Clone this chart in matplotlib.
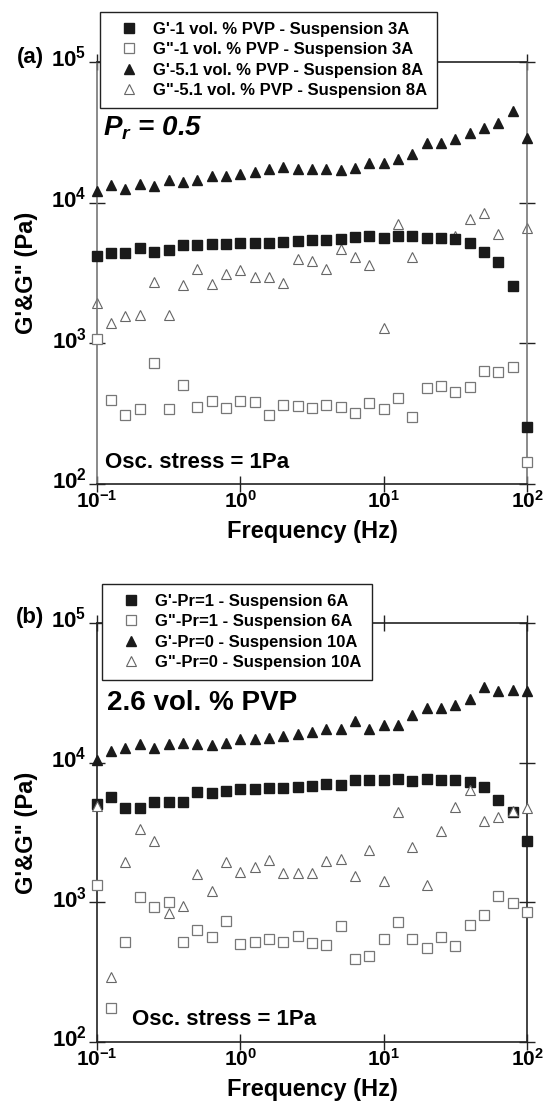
import numpy as np
import matplotlib
matplotlib.use("Agg")
import matplotlib.pyplot as plt
from matplotlib.ticker import LogLocator, NullLocator
from matplotlib.transforms import ScaledTranslation

plt.rcParams['font.family'] = ['Liberation Sans', 'DejaVu Sans']
plt.rcParams['font.weight'] = 'bold'

nan = np.nan

# frequency sweep, 10 points per decade (Hz)
freq = [0.1, 0.126, 0.158, 0.2, 0.251, 0.316, 0.398, 0.501, 0.631, 0.794,
        1.0, 1.26, 1.58, 2.0, 2.51, 3.16, 3.98, 5.01, 6.31, 7.94,
        10.0, 12.6, 15.8, 20.0, 25.1, 31.6, 39.8, 50.1, 63.1, 79.4, 100.0]

# panel (a), Pr = 0.5
gp_1vol = [4200, 4370, 4370, 4730, 4480, 4610, 5000, 5000, 5050, 5070,
           5140, 5200, 5200, 5250, 5310, 5430, 5430, 5480, 5730, 5800,
           5640, 5800, 5800, 5640, 5570, 5480, 5140, 4440, 3790, 2570, 256]
gpp_1vol = [1070, 395, 310, 340, 721, 340, 506, 355, 389, 345,
            389, 381, 310, 365, 359, 349, 365, 351, 318, 374,
            340, 406, 301, 479, 497, 451, 487, 640, 622, 675, 144]
gp_51vol = [12100, 13400, 12600, 13600, 13200, 14400, 14100, 14400, 15400, 15500,
            16000, 16500, 17300, 17800, 17400, 17400, 17400, 17100, 17700, 19200,
            19200, 20300, 22200, 26400, 26400, 28200, 31400, 34100, 37000, 45100, 29000]
gpp_51vol = [1920, 1400, 1560, 1590, 2740, 1590, 2600, 3360, 2630, 3110,
             3320, 2980, 2980, 2700, 3950, 3850, 3370, 4690, 4080, 3600,
             1290, 7050, 4080, 5640, 5570, 5800, 7630, 8490, 5960, nan, 6640]

# panel (b), 2.6 vol. % PVP
gp_pr1 = [5090, 5690, 4770, 4770, 5240, 5240, 5240, 6170, 6100, 6280,
          6450, 6450, 6630, 6630, 6700, 6850, 7080, 6890, 7520, 7520,
          7520, 7700, 7400, 7600, 7520, 7520, 7240, 6670, 5410, 4410, 2740]
gpp_pr1 = [1320, 175, 517, 1100, 930, 1010, 517, 634, 562, 740,
           504, 523, 547, 517, 578, 509, 495, 681, 392, 414,
           547, 728, 547, 474, 569, 490, 689, 813, 1110, 995, 857]
gp_pr0 = [10400, 12100, 12650, 13500, 12650, 13500, 13900, 13500, 13300, 13900,
          14700, 14700, 15100, 15500, 16100, 16700, 17500, 17300, 19800, 17300,
          18500, 18700, 21800, 24700, 24700, 25700, 28700, 34700, 32500, 33400, 32400]
gpp_pr0 = [4900, 291, 1930, 3340, 2730, 840, 936, 1590, 1210, 1960,
           1640, 1780, 2000, 1620, 1620, 1630, 1990, 2030, 1550, 2370,
           1420, 4450, 2500, 1330, 3240, 4820, 6340, 3830, 4090, 4520, 4720]

labels_a = ["G'-1 vol. % PVP - Suspension 3A", "G\"-1 vol. % PVP - Suspension 3A",
            "G'-5.1 vol. % PVP - Suspension 8A", "G\"-5.1 vol. % PVP - Suspension 8A"]
labels_b = ["G'-Pr=1 - Suspension 6A", "G\"-Pr=1 - Suspension 6A",
            "G'-Pr=0 - Suspension 10A", "G\"-Pr=0 - Suspension 10A"]

W, H = 543, 1102
fig = plt.figure(figsize=(W / 100, H / 100), dpi=100)


def px_axes(left, top, right, bottom):
    return fig.add_axes([left / W, 1 - bottom / H, (right - left) / W, (bottom - top) / H])


ax_a = px_axes(97, 62, 527, 484)
ax_b = px_axes(97, 623, 527, 1042)

filled = dict(color='#1a1a1a', linestyle='none', clip_on=False)
hollow_sq = dict(markerfacecolor='white', markeredgecolor='#777777', markeredgewidth=0.9,
                 linestyle='none', clip_on=False)
hollow_tri = dict(markerfacecolor='white', markeredgecolor='#666666', markeredgewidth=0.8,
                  linestyle='none', clip_on=False)


def draw(ax, series, labels, tri_on_top):
    gp_s, gpp_s, gp_t, gpp_t = series
    z_t = 5 if tri_on_top else 2
    h1, = ax.plot(freq, gp_s, marker='s', markersize=7, zorder=4, label=labels[0], **filled)
    h2, = ax.plot(freq, gpp_s, marker='s', markersize=6.5, zorder=3, label=labels[1], **hollow_sq)
    h3, = ax.plot(freq, gp_t, marker='^', markersize=7, zorder=4, label=labels[2], **filled)
    h4, = ax.plot(freq, gpp_t, marker='^', markersize=6.5, zorder=z_t, label=labels[3], **hollow_tri)
    return [h1, h2, h3, h4]


def style(ax, spine_col):
    ax.set_xscale('log')
    ax.set_yscale('log')
    ax.set_xlim(0.1, 100)
    ax.set_ylim(100, 1e5)
    ax.xaxis.set_major_locator(LogLocator(base=10, numticks=10))
    ax.yaxis.set_major_locator(LogLocator(base=10, numticks=10))
    ax.xaxis.set_minor_locator(NullLocator())
    ax.yaxis.set_minor_locator(NullLocator())
    ax.tick_params(which='major', direction='inout', length=11, width=1.0,
                   top=True, right=True, color='#222222')
    ax.tick_params(axis='x', pad=-1, labelsize=15)
    ax.tick_params(axis='y', pad=2, labelsize=16)
    for s in ax.spines.values():
        s.set_linewidth(1.2)
        s.set_color('#222222')
    ax.spines['left'].set_color(spine_col)
    ax.spines['right'].set_color(spine_col)
    ax.set_xlabel('Frequency (Hz)', fontsize=17, fontweight='bold')
    ax.set_ylabel('G\'&G" (Pa)', fontsize=17, fontweight='bold')
    ax.xaxis.set_label_coords(0.5, -0.085)
    ax.yaxis.set_label_coords(-0.138, 0.5)
    # the y tick numbers sit a little above their ticks in the original
    shift = ScaledTranslation(0, 4 / 72, fig.dpi_scale_trans)
    for lab in ax.get_yticklabels():
        lab.set_transform(lab.get_transform() + shift)


hs_a = draw(ax_a, (gp_1vol, gpp_1vol, gp_51vol, gpp_51vol), labels_a, False)
hs_b = draw(ax_b, (gp_pr1, gpp_pr1, gp_pr0, gpp_pr0), labels_b, True)
style(ax_a, '#777777')
style(ax_b, '#222222')

leg_kw = dict(loc='upper left', bbox_transform=fig.transFigure, fontsize=12,
              frameon=True, fancybox=False, edgecolor='#222222', framealpha=1,
              borderpad=0.6, labelspacing=0.32, handlelength=2.3, handletextpad=0.3,
              borderaxespad=0, numpoints=1)
leg_a = ax_a.legend(handles=hs_a, bbox_to_anchor=(100 / W, 1 - 12 / H), **leg_kw)
leg_b = ax_b.legend(handles=hs_b, bbox_to_anchor=(102 / W, 1 - 584 / H), **leg_kw)
for leg in (leg_a, leg_b):
    leg.get_frame().set_linewidth(1.0)
    leg.set_zorder(10)

ax_a.text(0.014, 0.827, r'$\mathdefault{P_r}$ = 0.5', transform=ax_a.transAxes,
          fontsize=20, fontweight='bold', fontstyle='italic', va='baseline')
ax_a.text(0.019, 0.038, 'Osc. stress = 1Pa', transform=ax_a.transAxes,
          fontsize=16, fontweight='bold', va='baseline')
ax_b.text(0.023, 0.792, '2.6 vol. % PVP', transform=ax_b.transAxes,
          fontsize=20, fontweight='bold', va='baseline')
ax_b.text(0.081, 0.041, 'Osc. stress = 1Pa', transform=ax_b.transAxes,
          fontsize=16, fontweight='bold', va='baseline')

fig.text(30 / W, 1 - 57 / H, '(a)', fontsize=16, fontweight='bold', ha='center', va='center')
fig.text(30 / W, 1 - 617 / H, '(b)', fontsize=16, fontweight='bold', ha='center', va='center')

fig.savefig('out.png', dpi=100)
